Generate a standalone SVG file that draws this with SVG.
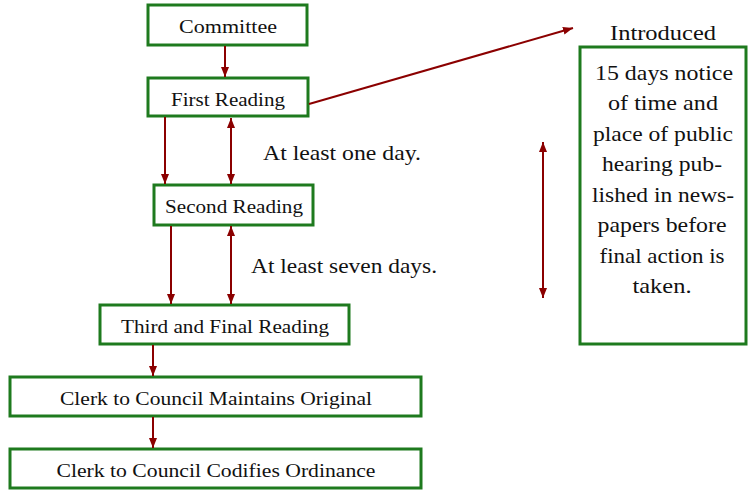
<svg xmlns="http://www.w3.org/2000/svg" width="750" height="490" viewBox="0 0 750 490">
<defs>
<marker id="ah" viewBox="0 0 10 10" refX="10" refY="5" markerWidth="10" markerHeight="10" markerUnits="userSpaceOnUse" orient="auto-start-reverse">
<path d="M0,1 L10,5 L0,9 Z" fill="#8b0000"/>
</marker>
<style>
.box{fill:#fff;stroke:#1e7a1e;stroke-width:3}
.t{font-family:"Liberation Serif",serif;font-size:19px;fill:#111;text-anchor:middle}
.b{font-family:"Liberation Serif",serif;font-size:22px;fill:#111;text-anchor:middle}
.c{stroke:#8b0000;stroke-width:2;fill:none}
</style>
</defs>
<rect width="750" height="490" fill="#fff"/>
<g id="committee"><rect class="box" x="148" y="5" width="159" height="40"/><text class="t" x="228" y="33" textLength="98" lengthAdjust="spacingAndGlyphs">Committee</text></g>
<g id="first"><rect class="box" x="148" y="78" width="160" height="38"/><text class="t" x="228" y="106" textLength="114" lengthAdjust="spacingAndGlyphs">First Reading</text></g>
<g id="second"><rect class="box" x="154" y="185" width="159" height="40"/><text class="t" x="234" y="213" textLength="138" lengthAdjust="spacingAndGlyphs">Second Reading</text></g>
<g id="third"><rect class="box" x="100" y="305" width="249" height="39"/><text class="t" x="225" y="333" textLength="208" lengthAdjust="spacingAndGlyphs">Third and Final Reading</text></g>
<g id="clerk1"><rect class="box" x="10" y="377" width="411" height="39"/><text class="t" x="216" y="405" textLength="312" lengthAdjust="spacingAndGlyphs">Clerk to Council Maintains Original</text></g>
<g id="clerk2"><rect class="box" x="10" y="449" width="411" height="39"/><text class="t" x="216" y="477" textLength="319" lengthAdjust="spacingAndGlyphs">Clerk to Council Codifies Ordinance</text></g>
<g id="notice"><text class="b" x="663" y="40" textLength="106" lengthAdjust="spacingAndGlyphs">Introduced</text>
<rect class="box" x="580" y="47" width="166" height="297"/>
<text class="b" x="664" y="80" textLength="138" lengthAdjust="spacingAndGlyphs">15 days notice</text>
<text class="b" x="663" y="110" textLength="110" lengthAdjust="spacingAndGlyphs">of time and</text>
<text class="b" x="663" y="141" textLength="140" lengthAdjust="spacingAndGlyphs">place of public</text>
<text class="b" x="662" y="171" textLength="120" lengthAdjust="spacingAndGlyphs">hearing pub-</text>
<text class="b" x="663" y="202" textLength="142" lengthAdjust="spacingAndGlyphs">lished in news-</text>
<text class="b" x="662" y="232" textLength="129" lengthAdjust="spacingAndGlyphs">papers before</text>
<text class="b" x="662" y="263" textLength="125" lengthAdjust="spacingAndGlyphs">final action is</text>
<text class="b" x="662" y="293" textLength="59" lengthAdjust="spacingAndGlyphs">taken.</text></g>
<g id="labels">
<text class="b" x="342" y="160" textLength="158" lengthAdjust="spacingAndGlyphs">At least one day.</text>
<text class="b" x="344" y="273" textLength="186" lengthAdjust="spacingAndGlyphs">At least seven days.</text>
</g>
<g id="connectors">
<line class="c" x1="225" y1="46" x2="225" y2="77" marker-end="url(#ah)"/>
<line class="c" x1="165" y1="117" x2="165" y2="184" marker-end="url(#ah)"/>
<line class="c" x1="231" y1="118" x2="231" y2="184" marker-start="url(#ah)" marker-end="url(#ah)"/>
<line class="c" x1="171" y1="226" x2="171" y2="304" marker-end="url(#ah)"/>
<line class="c" x1="231" y1="226" x2="231" y2="304" marker-start="url(#ah)" marker-end="url(#ah)"/>
<line class="c" x1="153" y1="345" x2="153" y2="376" marker-end="url(#ah)"/>
<line class="c" x1="153" y1="417" x2="153" y2="448" marker-end="url(#ah)"/>
<line class="c" x1="309" y1="104" x2="573" y2="28" marker-end="url(#ah)"/>
<line class="c" x1="543" y1="142" x2="543" y2="298" marker-start="url(#ah)" marker-end="url(#ah)"/>
</g>
</svg>
